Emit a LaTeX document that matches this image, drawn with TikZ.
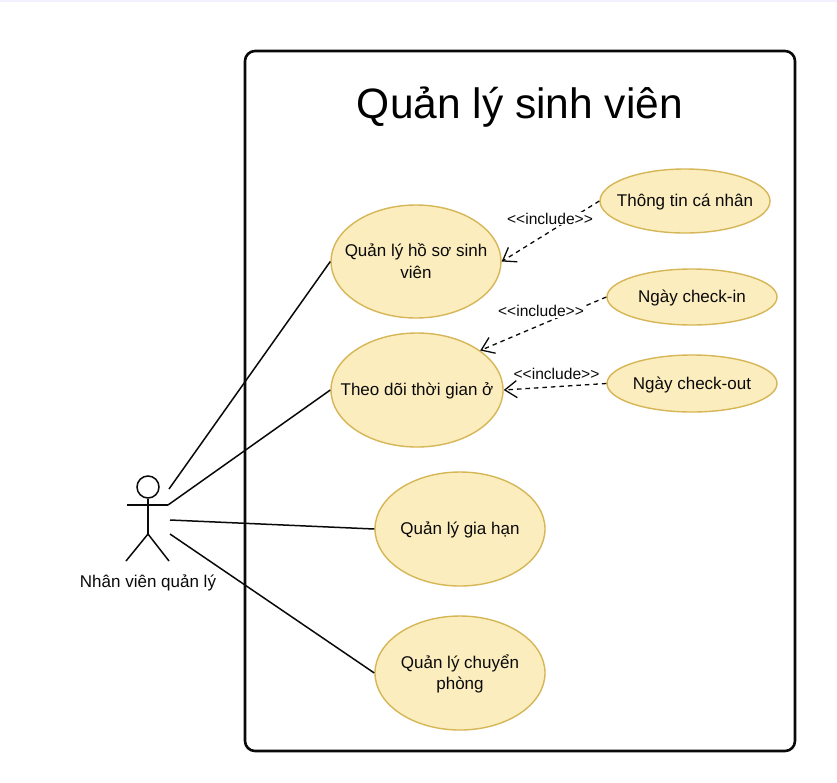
\documentclass[tikz,border=0pt]{standalone}
\usepackage{fontspec}
\setmainfont{Liberation Sans}
\usetikzlibrary{shapes.geometric,arrows.meta}
\definecolor{ucfill}{HTML}{FBEDBE}
\definecolor{ucline}{HTML}{D6B656}
\definecolor{ink}{HTML}{0A0A0A}
\newcommand{\uctext}[1]{\makebox[0pt][c]{\raisebox{0pt}[\dimexpr\height+3pt\relax][\depth]{\begin{tabular}{@{}c@{}}#1\end{tabular}}}}
\tikzset{
  usecase/.style={ellipse,draw=ucline,fill=ucfill,line width=1.4pt,inner sep=0pt,minimum width=#1,font=\fontsize{17}{21.5}\selectfont,text=ink},
  assoc/.style={draw=ink,line width=1.5pt},
  incl/.style={draw=ink,line width=1.3pt,dash pattern=on 4.5pt off 4pt,-{Straight Barb[length=12pt,width=17pt,line width=1.3pt]}},
  incltext/.style={font=\fontsize{15.6}{17}\selectfont,text=ink,inner sep=1pt},
  stick/.style={draw=ink,line width=1.5pt}
}
\begin{document}
\begin{tikzpicture}[x=1pt,y=-1pt]
\useasboundingbox (0,0) rectangle (837,782);
\fill[white] (0,0) rectangle (837,782);
\fill[blue!6] (0,0) rectangle (837,1.5);
\node[draw=ink,line width=2.6pt,rounded corners=10pt,minimum width=550pt,minimum height=700pt,inner sep=0pt] (system) at (520,401) {};
\node[font=\fontsize{42.5}{50}\selectfont,text=black,inner sep=0pt] (title) at (520,107) {Quản lý sinh viên};

\node[usecase=170pt,minimum height=113pt] (hoso) at (416,261.5) {\uctext{Quản lý hồ sơ sinh\\viên}};
\node[usecase=172pt,minimum height=114pt] (thoigian) at (417,390) {\uctext{Theo dõi thời gian ở}};
\node[usecase=170pt,minimum height=114pt] (giahan) at (460,529) {\uctext{Quản lý gia hạn}};
\node[usecase=170pt,minimum height=114pt] (chuyen) at (460,673) {\uctext{Quản lý chuyển\\phòng}};
\node[usecase=170pt,minimum height=64pt] (thongtin) at (685,201) {\uctext{Thông tin cá nhân}};
\node[usecase=170pt,minimum height=56pt] (checkin) at (692,297) {\uctext{Ngày check-in}};
\node[usecase=170pt,minimum height=57pt] (checkout) at (692,383.5) {\uctext{Ngày check-out}};

% actor
\node[circle,stick,minimum size=22pt,inner sep=0pt] (head) at (148,487) {};
\coordinate (armL) at (127,505);
\coordinate (armR) at (168,505);
\coordinate (hip) at (148,534);
\coordinate (legL) at (126,561);
\coordinate (legR) at (169,561);
\draw[stick] (head.south) -- (hip);
\draw[stick] (armL) -- (armR);
\draw[stick] (legL) -- (hip) -- (legR);
\node[font=\fontsize{17}{20}\selectfont,text=ink,inner sep=0pt] (actorname) at (148,582.5) {Nhân viên quản lý};

% associations
\coordinate (a1) at (169,489);
\coordinate (a3) at (170,520);
\coordinate (a4) at (170,534);
\draw[assoc] (a1) -- (hoso.west);
\draw[assoc] (armR) -- (thoigian.west);
\draw[assoc] (a3) -- (giahan.west);
\draw[assoc] (a4) -- (chuyen.west);

% includes
\draw[incl] (thongtin.west) -- (hoso.east);
\draw[incl] (checkin.west) -- (thoigian.32);
\draw[incl] (checkout.west) -- (thoigian.east);
\node[incltext,fill=white] (l1) at (550,218.5) {<{}<include>{}>};
\node[incltext,fill=white] (l2) at (541,311) {<{}<include>{}>};
\node[incltext] (l3) at (556.5,373.5) {<{}<include>{}>};
\end{tikzpicture}
\end{document}
